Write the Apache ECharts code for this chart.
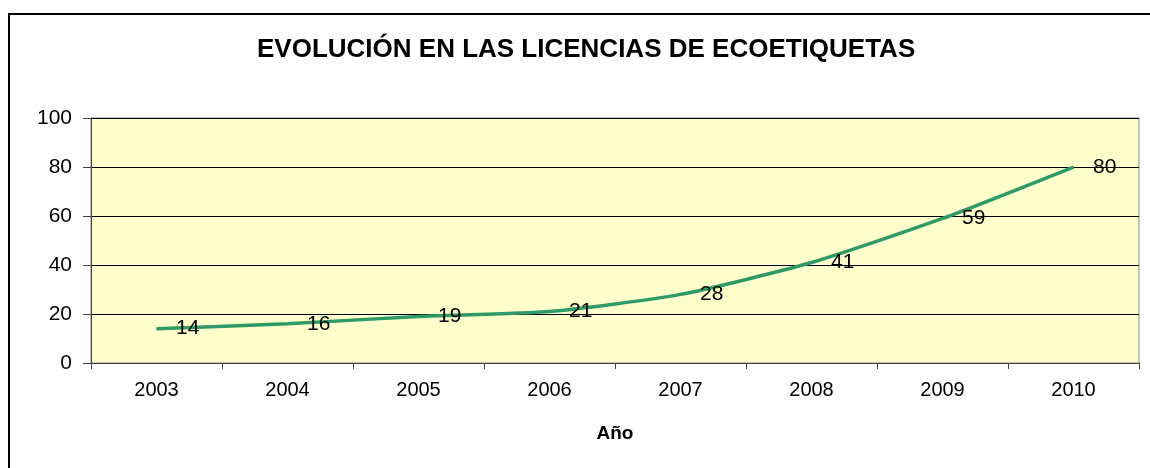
<!DOCTYPE html>
<html>
<head>
<meta charset="utf-8">
<script src="https://cdn.jsdelivr.net/npm/echarts@6/dist/echarts.min.js"></script>
<style>
  html, body { margin: 0; padding: 0; background: #fff; }
  #chart { width: 1150px; height: 468px; }
</style>
</head>
<body>
<div id="chart"></div>
<script>
// datos
var years = ['2003', '2004', '2005', '2006', '2007', '2008', '2009', '2010'];
var licencias = [14, 16, 19, 21, 28, 41, 59, 80];
var yTicks = [0, 20, 40, 60, 80, 100];

var fuente = 'Liberation Sans, Arial, sans-serif';

var chart = echarts.init(document.getElementById('chart'));

var option = {
  backgroundColor: '#fff',
  animation: false,
  title: {
    text: 'EVOLUCIÓN EN LAS LICENCIAS DE ECOETIQUETAS',
    left: 252,
    top: 32,
    textStyle: {
      fontFamily: fuente,
      fontSize: 26,
      fontWeight: 'bold',
      color: '#000'
    }
  },
  graphic: [
    { type: 'line', shape: { x1: 8, y1: 14, x2: 1150, y2: 14 }, style: { stroke: '#000', lineWidth: 2 } },
    { type: 'line', shape: { x1: 9, y1: 13, x2: 9, y2: 468 }, style: { stroke: '#000', lineWidth: 2 } }
  ],
  grid: {
    left: 91,
    right: 11,
    top: 118,
    bottom: 105,
    show: true,
    backgroundColor: '#FFFFCC',
    borderColor: '#888',
    borderWidth: 1
  },
  xAxis: {
    type: 'category',
    data: years,
    boundaryGap: true,
    name: 'Año',
    nameLocation: 'middle',
    nameGap: 61,
    nameTextStyle: {
      fontFamily: fuente,
      fontSize: 19,
      fontWeight: 'bold',
      color: '#000'
    },
    axisLine: { lineStyle: { color: '#444', width: 1 } },
    axisTick: { show: true, length: 6, lineStyle: { color: '#444' } },
    axisLabel: {
      margin: 17,
      fontFamily: fuente,
      fontSize: 20,
      color: '#000'
    },
    splitLine: { show: false }
  },
  yAxis: {
    type: 'value',
    min: yTicks[0],
    max: yTicks[yTicks.length - 1],
    interval: 20,
    axisLine: { show: true, lineStyle: { color: '#444', width: 1 } },
    axisTick: { show: true, length: 8, lineStyle: { color: '#444' } },
    axisLabel: {
      margin: 19,
      fontFamily: fuente,
      fontSize: 21,
      color: '#000'
    },
    splitLine: { show: true, lineStyle: { color: '#000', width: 1 } }
  },
  series: [{
    type: 'line',
    data: licencias,
    smooth: 0.2,
    symbol: 'circle',
    symbolSize: 1,
    showSymbol: true,
    itemStyle: { color: '#2F9A66' },
    lineStyle: { color: '#2F9A66', width: 3.5 },
    label: {
      show: true,
      position: 'right',
      distance: 19,
      fontFamily: fuente,
      fontSize: 21,
      color: '#000'
    }
  }]
};

chart.setOption(option);
</script>
</body>
</html>
